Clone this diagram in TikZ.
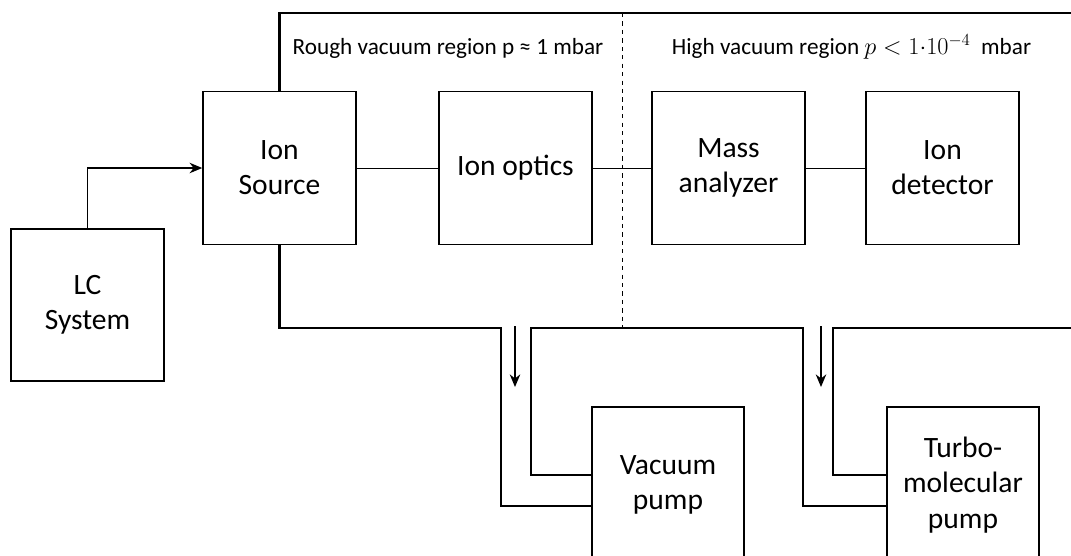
\documentclass[tikz,border=0pt]{standalone}
\usepackage{fontspec}
\setmainfont{Carlito}
\usetikzlibrary{arrows.meta}
\begin{document}
\begin{tikzpicture}[x=0.025cm, y=-0.025cm, >={Stealth[length=9pt,width=7.5pt]},
        block/.style={draw, line width=1.1pt, minimum width=3.825cm, minimum height=3.825cm,
            align=center, font=\fontsize{21}{25}\selectfont},
        pump/.style={block, minimum width=3.8cm, minimum height=3.9cm},
        region/.style={anchor=base, font=\fontsize{16.5}{19}\selectfont},
        wall/.style={line width=1.9pt},
        link/.style={line width=0.7pt}]
        \useasboundingbox (0,0) rectangle (1071,555);
        \clip (0,0) rectangle (1071,555);

        % Blocks
        \node[block, minimum height=3.8cm] (lc) at (87.5,305) {LC\\System};
        \node[block] (src) at (279.5,168) {Ion\\Source};
        \node[block] (optics) at (515.5,168) {Ion optics};
        \node[block] (mass) at (728.5,168) {Mass\\analyzer};
        \node[block] (det) at (942.5,168) {Ion\\detector};
        \node[pump] (vac) at (668,485) {Vacuum\\pump};
        \node[pump] (turbo) at (963,485) {Turbo-\\molecular\\pump};

        % Region labels
        \node[region] (rough) at (448,54) {Rough vacuum region p ≈ 1 mbar};
        \node[region] (high) at (851.5,54) {High vacuum region $p < 1{\cdot}10^{-4}$~~mbar};

        % Connections
        \draw[link] (src) -- (optics);
        \draw[link] (optics) -- (mass);
        \draw[link] (mass) -- (det);
        \draw[->, line width=0.9pt] (lc.north) |- (src.west);

        % Vacuum chamber
        \draw[wall] (src.north) -- (src.north |- 0,13) -- (1080,13);
        \draw[wall] (src.south) -- (src.south |- 0,328) -- (501,328) -- (501,506) -- (vac.west |- 0,506);
        \draw[wall] (vac.west |- 0,475) -- (531,475) -- (531,328) -- (803,328) -- (803,506) -- (turbo.west |- 0,506);
        \draw[wall] (turbo.west |- 0,475) -- (833,475) -- (833,328) -- (1080,328);
        \draw[link, dashed] (622,13) -- (622,328);

        % Pumping direction
        \coordinate (flowA) at (515,326);
        \coordinate (flowB) at (821,326);
        \draw[->, line width=0.9pt] (flowA) -- +(0,61);
        \draw[->, line width=0.9pt] (flowB) -- +(0,61);
    \end{tikzpicture}
\end{document}
